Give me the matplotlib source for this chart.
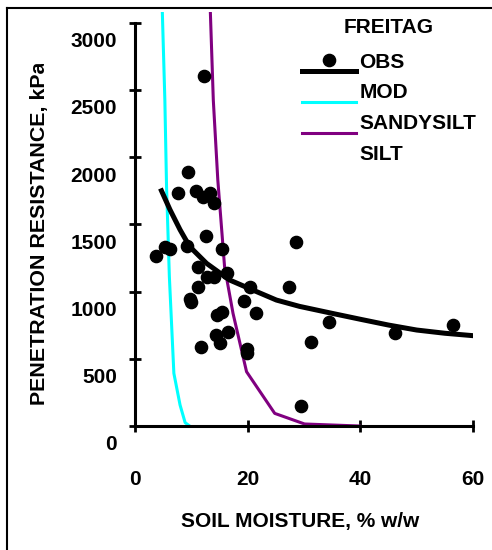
import numpy as np
import matplotlib
matplotlib.use('Agg')
import matplotlib.pyplot as plt
from matplotlib.lines import Line2D
from matplotlib.legend_handler import HandlerLine2D
from matplotlib.transforms import ScaledTranslation, Bbox, TransformedBbox

plt.rcParams['font.family'] = ['Liberation Sans', 'DejaVu Sans']
plt.rcParams['font.weight'] = 'bold'

# observed points (soil moisture %, penetration resistance kPa)
obs_x = [12.2, 9.4, 7.7, 10.8, 12.1, 13.3, 14.0, 12.6, 3.7, 5.3, 6.3, 9.3, 15.5,
         11.1, 12.7, 14.0, 16.3, 11.1, 20.4, 27.4, 28.5, 9.7, 10.0, 19.3, 21.4,
         14.5, 15.5, 34.5, 14.3, 15.0, 16.5, 11.8, 19.9, 19.9, 31.3, 29.5, 46.2, 56.5]
obs_y = [2604, 1892, 1731, 1748, 1701, 1731, 1657, 1416, 1267, 1334, 1317, 1341, 1317,
         1181, 1106, 1106, 1136, 1032, 1037, 1032, 1371, 943, 925, 930, 838,
         826, 850, 776, 677, 615, 702, 585, 573, 541, 627, 151, 690, 751]

# fitted curve through obs
fit_x = [4.7, 6.2, 8.0, 9.7, 12.7, 16.8, 20.9, 25.1, 29.2, 35.0, 40.0, 45.0, 50.0, 55.0, 60.0]
fit_y = [1750, 1610, 1460, 1335, 1210, 1086, 1012, 937, 890, 838, 794, 751, 714, 690, 672]

# MOD curve
mod_x = [4.7, 5.3, 5.6, 6.1, 6.9, 8.0, 8.9, 9.7]
mod_y = [3300, 2425, 1780, 1111, 392, 156, 25, 0]

# SANDYSILT curve
sandy_x = [13.2, 13.9, 14.7, 15.9, 17.4, 19.8, 24.8, 30.1, 39.8]
sandy_y = [3300, 2425, 1830, 1185, 838, 404, 94, 15, 0]

xticks = [0, 20, 40, 60]
yticks = [0, 500, 1000, 1500, 2000, 2500, 3000]

W, H = 492, 550
fig = plt.figure(figsize=(W / 100, H / 100), dpi=100)
ax = fig.add_axes([135 / W, (H - 426) / H, (473 - 135) / W, (426 - 12) / H])

dots, = ax.plot(obs_x, obs_y, 'o', color='black', ms=8.8, ls='none', zorder=4)
fit, = ax.plot(fit_x, fit_y, color='black', lw=3.6, zorder=3)
mod, = ax.plot(mod_x, mod_y, color='#00FFFF', lw=2.2)
sandy, = ax.plot(sandy_x, sandy_y, color='#800080', lw=2.2)
silt = Line2D([], [], color='none')

ax.set_xlim(0, 60)
ax.set_ylim(0, 3080)
ax.set_xticks(xticks)
ax.set_yticks(yticks)
for s in ['top', 'right']:
    ax.spines[s].set_visible(False)
ax.spines['left'].set_bounds(0, 3000)
for s in ['left', 'bottom']:
    ax.spines[s].set_linewidth(2.2)
ax.tick_params(direction='inout', length=8.6, width=2, labelsize=15)
ax.tick_params(axis='x', pad=27.4)
ax.tick_params(axis='y', pad=8.7)
for lab in ax.get_yticklabels():
    lab.set_transform(lab.get_transform() + ScaledTranslation(0, -17 / 100, fig.dpi_scale_trans))

ax.set_xlabel('SOIL MOISTURE, % w/w', fontsize=15, fontweight='bold')
ax.xaxis.set_label_coords((300 - 135) / 338, (426 - 521.7) / 414)
ax.xaxis.label.set_va('center')

yl = ax.set_ylabel('PENETRATION RESISTANCE, kPa', fontsize=15.4, fontweight='bold')
ax.yaxis.set_label_coords((40 - 135) / 338, (426 - 405) / 414)
yl.set_ha('left')
yl.set_va('center')
yl.set_clip_box(TransformedBbox(Bbox.from_extents(0, 0, 1, 1 - 64 / H), fig.transFigure))
yl.set_clip_on(True)


class ShiftedLine(HandlerLine2D):
    def create_artists(self, legend, orig_handle, xdescent, ydescent, width, height, fontsize, trans):
        arts = super().create_artists(legend, orig_handle, xdescent, ydescent, width, height, fontsize, trans)
        for a in arts:
            a.set_ydata(np.asarray(a.get_ydata()) - 8)
        return arts


leg = ax.legend([(dots, fit), mod, sandy, silt], ['OBS', 'MOD', 'SANDYSILT', 'SILT'],
                title='FREITAG', loc='upper left', bbox_to_anchor=(302 / W, 1 - 22 / H),
                bbox_transform=fig.transFigure, frameon=False,
                prop={'size': 15, 'weight': 'bold'},
                title_fontproperties={'size': 15, 'weight': 'bold'},
                handlelength=2.6, handletextpad=0.15, labelspacing=0.56,
                borderpad=0, borderaxespad=0,
                handler_map={fit: ShiftedLine(), mod: ShiftedLine(), sandy: ShiftedLine()})
title = leg.get_title()
title.set_transform(title.get_transform() + ScaledTranslation(0, 4 / 100, fig.dpi_scale_trans))

# chart frame (left and top edges visible)
fig.add_artist(Line2D([7 / W, 7 / W], [0, 1 - 8 / H], color='black', lw=1.5, transform=fig.transFigure))
fig.add_artist(Line2D([7 / W, 1], [1 - 8 / H, 1 - 8 / H], color='black', lw=1.5, transform=fig.transFigure))

fig.savefig('out.png', dpi=100)
